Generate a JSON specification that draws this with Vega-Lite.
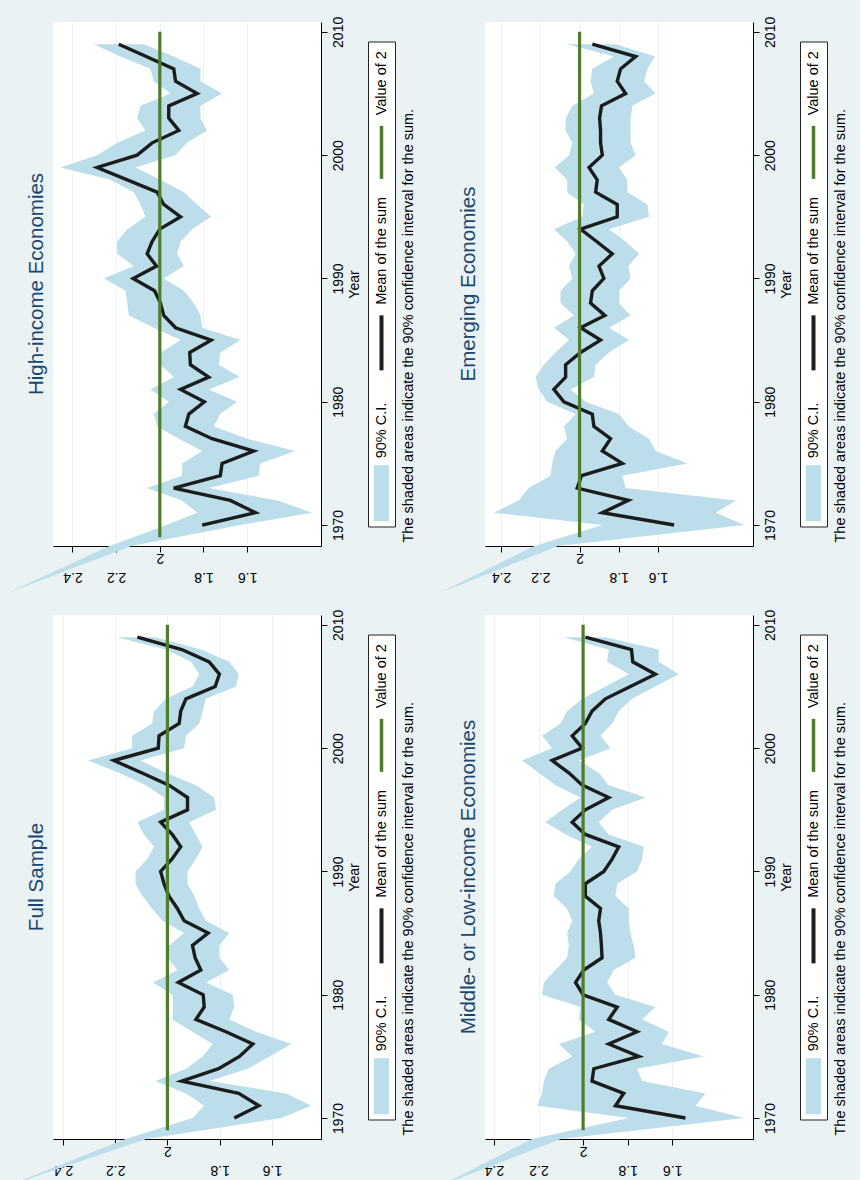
{
  "$schema": "https://vega.github.io/schema/vega-lite/v6.json",
  "background": "#eaf2f3",
  "padding": {"left": 7, "top": 16, "right": 11, "bottom": 2},
  "config": {
    "font": "Liberation Sans",
    "view": {"stroke": null},
    "axis": {"labelFont": "Liberation Sans", "titleFont": "Liberation Sans", "labelColor": "black", "titleColor": "black", "domainColor": "black", "tickColor": "black", "labelFontSize": 14, "titleFontSize": 14, "titleFontWeight": "normal", "tickSize": 6, "domainWidth": 1, "tickWidth": 1},
    "title": {"font": "Liberation Sans", "fontWeight": "normal"}
  },
  "datasets": {
    "ref": [{"year": 1969}, {"year": 2010}],
    "legend": [
      {"label": "Value of 2", "key": "g"},
      {"label": "Mean of the sum", "key": "m"},
      {"label": "90% C.I.", "key": "ci"}
    ],
    "series": [
      {"p":"HI","year":1964.5,"mean":null,"hi":2.695,"lo":2.695},
      {"p":"HI","year":1968.3,"mean":null,"hi":2.23,"lo":2.13},
      {"p":"HI","year":1970,"mean":1.806,"hi":1.97,"lo":1.631},
      {"p":"HI","year":1971,"mean":1.562,"hi":1.829,"lo":1.303},
      {"p":"HI","year":1972,"mean":1.677,"hi":1.90,"lo":1.46},
      {"p":"HI","year":1973,"mean":1.936,"hi":2.058,"lo":1.776},
      {"p":"HI","year":1974,"mean":1.723,"hi":1.898,"lo":1.547},
      {"p":"HI","year":1975,"mean":1.715,"hi":1.898,"lo":1.540},
      {"p":"HI","year":1976,"mean":1.570,"hi":1.806,"lo":1.380},
      {"p":"HI","year":1977,"mean":1.761,"hi":1.913,"lo":1.601},
      {"p":"HI","year":1978,"mean":1.883,"hi":2.012,"lo":1.753},
      {"p":"HI","year":1979,"mean":1.867,"hi":2.027,"lo":1.723},
      {"p":"HI","year":1980,"mean":1.796,"hi":1.959,"lo":1.646},
      {"p":"HI","year":1981,"mean":1.905,"hi":2.043,"lo":1.776},
      {"p":"HI","year":1982,"mean":1.776,"hi":1.936,"lo":1.634},
      {"p":"HI","year":1983,"mean":1.860,"hi":1.997,"lo":1.730},
      {"p":"HI","year":1984,"mean":1.863,"hi":1.994,"lo":1.723},
      {"p":"HI","year":1985,"mean":1.765,"hi":1.905,"lo":1.631},
      {"p":"HI","year":1986,"mean":1.928,"hi":2.027,"lo":1.806},
      {"p":"HI","year":1987,"mean":1.982,"hi":2.142,"lo":1.814},
      {"p":"HI","year":1988,"mean":1.997,"hi":2.149,"lo":1.845},
      {"p":"HI","year":1989,"mean":2.024,"hi":2.157,"lo":1.890},
      {"p":"HI","year":1990,"mean":2.122,"hi":2.256,"lo":1.982},
      {"p":"HI","year":1991,"mean":2.015,"hi":2.119,"lo":1.890},
      {"p":"HI","year":1992,"mean":2.058,"hi":2.195,"lo":1.921},
      {"p":"HI","year":1993,"mean":2.035,"hi":2.195,"lo":1.905},
      {"p":"HI","year":1994,"mean":2.000,"hi":2.149,"lo":1.852},
      {"p":"HI","year":1995,"mean":1.905,"hi":2.066,"lo":1.765},
      {"p":"HI","year":1996,"mean":1.982,"hi":2.088,"lo":1.829},
      {"p":"HI","year":1997,"mean":2.012,"hi":2.119,"lo":1.890},
      {"p":"HI","year":1998,"mean":2.149,"hi":2.226,"lo":1.997},
      {"p":"HI","year":1999,"mean":2.287,"hi":2.454,"lo":2.111},
      {"p":"HI","year":2000,"mean":2.104,"hi":2.287,"lo":1.928},
      {"p":"HI","year":2001,"mean":2.035,"hi":2.195,"lo":1.875},
      {"p":"HI","year":2002,"mean":1.913,"hi":2.066,"lo":1.784},
      {"p":"HI","year":2003,"mean":1.959,"hi":2.104,"lo":1.814},
      {"p":"HI","year":2004,"mean":1.959,"hi":2.088,"lo":1.814},
      {"p":"HI","year":2005,"mean":1.829,"hi":1.951,"lo":1.715},
      {"p":"HI","year":2006,"mean":1.928,"hi":2.027,"lo":1.814},
      {"p":"HI","year":2007,"mean":1.936,"hi":2.043,"lo":1.814},
      {"p":"HI","year":2008,"mean":2.062,"hi":2.180,"lo":1.936},
      {"p":"HI","year":2009,"mean":2.188,"hi":2.302,"lo":2.073},

      {"p":"EM","year":1964.5,"mean":null,"hi":2.712,"lo":2.712},
      {"p":"EM","year":1968.3,"mean":null,"hi":2.23,"lo":2.11},
      {"p":"EM","year":1970,"mean":1.518,"hi":1.884,"lo":1.161},
      {"p":"EM","year":1971,"mean":1.884,"hi":2.437,"lo":1.306},
      {"p":"EM","year":1972,"mean":1.751,"hi":2.310,"lo":1.203},
      {"p":"EM","year":1973,"mean":2.012,"hi":2.259,"lo":1.765},
      {"p":"EM","year":1974,"mean":1.990,"hi":2.148,"lo":1.782},
      {"p":"EM","year":1975,"mean":1.782,"hi":2.140,"lo":1.450},
      {"p":"EM","year":1976,"mean":1.884,"hi":2.123,"lo":1.612},
      {"p":"EM","year":1977,"mean":1.842,"hi":2.063,"lo":1.646},
      {"p":"EM","year":1978,"mean":1.927,"hi":2.080,"lo":1.748},
      {"p":"EM","year":1979,"mean":1.935,"hi":2.020,"lo":1.799},
      {"p":"EM","year":1980,"mean":2.080,"hi":2.165,"lo":1.969},
      {"p":"EM","year":1981,"mean":2.131,"hi":2.208,"lo":2.046},
      {"p":"EM","year":1982,"mean":2.071,"hi":2.225,"lo":1.927},
      {"p":"EM","year":1983,"mean":2.071,"hi":2.182,"lo":1.918},
      {"p":"EM","year":1984,"mean":1.995,"hi":2.123,"lo":1.850},
      {"p":"EM","year":1985,"mean":1.893,"hi":2.054,"lo":1.748},
      {"p":"EM","year":1986,"mean":1.995,"hi":2.131,"lo":1.850},
      {"p":"EM","year":1987,"mean":1.871,"hi":2.029,"lo":1.740},
      {"p":"EM","year":1988,"mean":1.944,"hi":2.097,"lo":1.799},
      {"p":"EM","year":1989,"mean":1.935,"hi":2.097,"lo":1.799},
      {"p":"EM","year":1990,"mean":1.876,"hi":2.037,"lo":1.740},
      {"p":"EM","year":1991,"mean":1.901,"hi":2.054,"lo":1.751},
      {"p":"EM","year":1992,"mean":1.833,"hi":2.020,"lo":1.697},
      {"p":"EM","year":1993,"mean":1.913,"hi":2.063,"lo":1.765},
      {"p":"EM","year":1994,"mean":1.995,"hi":2.131,"lo":1.850},
      {"p":"EM","year":1995,"mean":1.808,"hi":1.986,"lo":1.646},
      {"p":"EM","year":1996,"mean":1.808,"hi":1.978,"lo":1.654},
      {"p":"EM","year":1997,"mean":1.918,"hi":2.063,"lo":1.757},
      {"p":"EM","year":1998,"mean":1.910,"hi":2.063,"lo":1.757},
      {"p":"EM","year":1999,"mean":1.952,"hi":2.126,"lo":1.799},
      {"p":"EM","year":2000,"mean":1.884,"hi":2.054,"lo":1.714},
      {"p":"EM","year":2001,"mean":1.893,"hi":2.037,"lo":1.740},
      {"p":"EM","year":2002,"mean":1.893,"hi":2.071,"lo":1.740},
      {"p":"EM","year":2003,"mean":1.898,"hi":2.071,"lo":1.740},
      {"p":"EM","year":2004,"mean":1.888,"hi":2.037,"lo":1.731},
      {"p":"EM","year":2005,"mean":1.765,"hi":1.927,"lo":1.612},
      {"p":"EM","year":2006,"mean":1.808,"hi":1.944,"lo":1.671},
      {"p":"EM","year":2007,"mean":1.791,"hi":1.935,"lo":1.654},
      {"p":"EM","year":2008,"mean":1.714,"hi":1.825,"lo":1.615},
      {"p":"EM","year":2009,"mean":1.935,"hi":2.063,"lo":1.816},

      {"p":"FS","year":1964.5,"mean":null,"hi":2.611,"lo":2.611},
      {"p":"FS","year":1968.3,"mean":null,"hi":2.16,"lo":2.08},
      {"p":"FS","year":1970,"mean":1.744,"hi":1.904,"lo":1.564},
      {"p":"FS","year":1971,"mean":1.650,"hi":1.859,"lo":1.449},
      {"p":"FS","year":1972,"mean":1.727,"hi":1.929,"lo":1.545},
      {"p":"FS","year":1973,"mean":1.945,"hi":2.045,"lo":1.840},
      {"p":"FS","year":1974,"mean":1.804,"hi":1.929,"lo":1.692},
      {"p":"FS","year":1975,"mean":1.724,"hi":1.865,"lo":1.609},
      {"p":"FS","year":1976,"mean":1.673,"hi":1.827,"lo":1.526},
      {"p":"FS","year":1977,"mean":1.776,"hi":1.904,"lo":1.660},
      {"p":"FS","year":1978,"mean":1.891,"hi":1.981,"lo":1.763},
      {"p":"FS","year":1979,"mean":1.859,"hi":1.978,"lo":1.744},
      {"p":"FS","year":1980,"mean":1.863,"hi":1.981,"lo":1.750},
      {"p":"FS","year":1981,"mean":1.958,"hi":2.055,"lo":1.853},
      {"p":"FS","year":1982,"mean":1.872,"hi":1.962,"lo":1.763},
      {"p":"FS","year":1983,"mean":1.894,"hi":2.000,"lo":1.801},
      {"p":"FS","year":1984,"mean":1.904,"hi":1.994,"lo":1.801},
      {"p":"FS","year":1985,"mean":1.844,"hi":1.936,"lo":1.763},
      {"p":"FS","year":1986,"mean":1.936,"hi":2.019,"lo":1.853},
      {"p":"FS","year":1987,"mean":1.962,"hi":2.058,"lo":1.878},
      {"p":"FS","year":1988,"mean":1.994,"hi":2.096,"lo":1.897},
      {"p":"FS","year":1989,"mean":2.013,"hi":2.122,"lo":1.923},
      {"p":"FS","year":1990,"mean":2.026,"hi":2.122,"lo":1.923},
      {"p":"FS","year":1991,"mean":1.983,"hi":2.077,"lo":1.891},
      {"p":"FS","year":1992,"mean":1.949,"hi":2.051,"lo":1.865},
      {"p":"FS","year":1993,"mean":1.981,"hi":2.090,"lo":1.891},
      {"p":"FS","year":1994,"mean":2.026,"hi":2.115,"lo":1.917},
      {"p":"FS","year":1995,"mean":1.923,"hi":2.013,"lo":1.814},
      {"p":"FS","year":1996,"mean":1.923,"hi":2.013,"lo":1.821},
      {"p":"FS","year":1997,"mean":1.994,"hi":2.083,"lo":1.891},
      {"p":"FS","year":1998,"mean":2.099,"hi":2.186,"lo":2.006},
      {"p":"FS","year":1999,"mean":2.205,"hi":2.304,"lo":2.103},
      {"p":"FS","year":2000,"mean":2.035,"hi":2.135,"lo":1.936},
      {"p":"FS","year":2001,"mean":2.032,"hi":2.135,"lo":1.929},
      {"p":"FS","year":2002,"mean":1.955,"hi":2.058,"lo":1.878},
      {"p":"FS","year":2003,"mean":1.949,"hi":2.051,"lo":1.865},
      {"p":"FS","year":2004,"mean":1.929,"hi":2.006,"lo":1.853},
      {"p":"FS","year":2005,"mean":1.817,"hi":1.904,"lo":1.737},
      {"p":"FS","year":2006,"mean":1.801,"hi":1.878,"lo":1.727},
      {"p":"FS","year":2007,"mean":1.840,"hi":1.910,"lo":1.763},
      {"p":"FS","year":2008,"mean":1.945,"hi":2.006,"lo":1.872},
      {"p":"FS","year":2009,"mean":2.115,"hi":2.192,"lo":2.045},

      {"p":"ML","year":1964.5,"mean":null,"hi":2.642,"lo":2.642},
      {"p":"ML","year":1968.3,"mean":null,"hi":2.23,"lo":2.10},
      {"p":"ML","year":1970,"mean":1.541,"hi":1.795,"lo":1.279},
      {"p":"ML","year":1971,"mean":1.855,"hi":2.206,"lo":1.496},
      {"p":"ML","year":1972,"mean":1.818,"hi":2.184,"lo":1.451},
      {"p":"ML","year":1973,"mean":1.960,"hi":2.176,"lo":1.735},
      {"p":"ML","year":1974,"mean":1.952,"hi":2.154,"lo":1.758},
      {"p":"ML","year":1975,"mean":1.750,"hi":2.049,"lo":1.459},
      {"p":"ML","year":1976,"mean":1.885,"hi":2.109,"lo":1.646},
      {"p":"ML","year":1977,"mean":1.758,"hi":1.945,"lo":1.616},
      {"p":"ML","year":1978,"mean":1.885,"hi":2.019,"lo":1.735},
      {"p":"ML","year":1979,"mean":1.847,"hi":2.012,"lo":1.676},
      {"p":"ML","year":1980,"mean":2.000,"hi":2.184,"lo":1.855},
      {"p":"ML","year":1981,"mean":2.034,"hi":2.176,"lo":1.892},
      {"p":"ML","year":1982,"mean":1.997,"hi":2.124,"lo":1.862},
      {"p":"ML","year":1983,"mean":1.915,"hi":2.072,"lo":1.765},
      {"p":"ML","year":1984,"mean":1.918,"hi":2.064,"lo":1.773},
      {"p":"ML","year":1985,"mean":1.922,"hi":2.072,"lo":1.788},
      {"p":"ML","year":1986,"mean":1.930,"hi":2.049,"lo":1.795},
      {"p":"ML","year":1987,"mean":1.922,"hi":2.072,"lo":1.795},
      {"p":"ML","year":1988,"mean":1.990,"hi":2.132,"lo":1.855},
      {"p":"ML","year":1989,"mean":1.990,"hi":2.124,"lo":1.847},
      {"p":"ML","year":1990,"mean":1.907,"hi":2.057,"lo":1.758},
      {"p":"ML","year":1991,"mean":1.870,"hi":2.019,"lo":1.735},
      {"p":"ML","year":1992,"mean":1.840,"hi":1.960,"lo":1.728},
      {"p":"ML","year":1993,"mean":1.990,"hi":2.079,"lo":1.885},
      {"p":"ML","year":1994,"mean":2.049,"hi":2.169,"lo":1.930},
      {"p":"ML","year":1995,"mean":1.990,"hi":2.094,"lo":1.870},
      {"p":"ML","year":1996,"mean":1.885,"hi":2.012,"lo":1.720},
      {"p":"ML","year":1997,"mean":2.004,"hi":2.124,"lo":1.885},
      {"p":"ML","year":1998,"mean":2.064,"hi":2.199,"lo":1.930},
      {"p":"ML","year":1999,"mean":2.139,"hi":2.274,"lo":2.019},
      {"p":"ML","year":2000,"mean":2.004,"hi":2.139,"lo":1.877},
      {"p":"ML","year":2001,"mean":2.049,"hi":2.184,"lo":1.922},
      {"p":"ML","year":2002,"mean":1.990,"hi":2.102,"lo":1.870},
      {"p":"ML","year":2003,"mean":1.960,"hi":2.072,"lo":1.840},
      {"p":"ML","year":2004,"mean":1.900,"hi":2.004,"lo":1.780},
      {"p":"ML","year":2005,"mean":1.788,"hi":1.900,"lo":1.676},
      {"p":"ML","year":2006,"mean":1.676,"hi":1.795,"lo":1.571},
      {"p":"ML","year":2007,"mean":1.777,"hi":1.892,"lo":1.661},
      {"p":"ML","year":2008,"mean":1.783,"hi":1.885,"lo":1.661},
      {"p":"ML","year":2009,"mean":1.990,"hi":2.087,"lo":1.900}
    ]
  },
  "spacing": 16,
  "vconcat": [
    {
      "spacing": 22,
      "hconcat": [
        {
          "bounds": "flush", "center": true, "spacing": 47,
          "hconcat": [
            {
              "width": 268, "height": 524,
              "view": {"stroke": null, "fill": "white"},
              "title": {"text": "High-income Economies", "orient": "left", "frame": "group", "offset": -39.5, "fontSize": 20.5, "color": "#1a476f", "fontWeight": "normal"},
              "layer": [
                {
                  "data": {"name": "series"},
                  "transform": [{"filter": "datum.p === 'HI'"}],
                  "mark": {"type": "area", "orient": "horizontal", "fill": "#bbdeea", "fillOpacity": 1, "clip": false},
                  "encoding": {
                    "y": {"field": "year", "type": "quantitative", "title": "Year", "scale": {"domain": [1968.3, 2010.8], "nice": false, "zero": false},
                          "axis": {"orient": "right", "values": [1970, 1980, 1990, 2000, 2010], "format": "d", "grid": false, "labelAngle": 270, "labelAlign": "center", "labelBaseline": "top", "labelPadding": 4, "labelOverlap": false, "labelFlush": false, "titleAngle": 270, "titleBaseline": "top", "titlePadding": 2}},
                    "x": {"field": "hi", "type": "quantitative", "title": null, "scale": {"domain": [1.262, 2.489], "reverse": true, "nice": false, "zero": false},
                          "axis": {"values": [1.6, 1.8, 2, 2.2, 2.4], "format": "~g", "grid": true, "gridColor": "#eaf2f3", "labelAngle": 180, "labelAlign": "center", "labelBaseline": {"condition": {"test": "datum.value == 2", "value": "bottom"}, "value": "line-bottom"}, "labelLineHeight": 53, "labelPadding": -2, "labelOverlap": false, "labelFlush": false}},
                    "x2": {"field": "lo"}
                  }
                },
                {
                  "data": {"name": "series"},
                  "transform": [{"filter": "datum.p === 'HI' && datum.mean != null"}],
                  "mark": {"type": "line", "color": "#1c1c1c", "strokeWidth": 3.4},
                  "encoding": {
                    "y": {"field": "year", "type": "quantitative", "title": "Year"},
                    "x": {"field": "mean", "type": "quantitative", "title": null},
                    "order": {"field": "year", "type": "quantitative"}
                  }
                },
                {
                  "data": {"name": "ref"},
                  "mark": {"type": "line", "color": "#4f7d2c", "strokeWidth": 3.2},
                  "encoding": {
                    "y": {"field": "year", "type": "quantitative", "title": "Year"},
                    "x": {"datum": 2, "type": "quantitative", "title": null}
                  }
                }
              ]
            },
            {
              "width": 27, "height": 485,
              "view": {"stroke": "#222222", "strokeWidth": 1, "fill": "white"},
              "data": {"name": "legend"},
              "title": {"text": "The shaded areas indicate the 90% confidence interval for the sum.", "orient": "right", "anchor": "end", "frame": "group", "angle": 270, "align": "left", "baseline": "top", "offset": -7.5, "dx": -16, "fontSize": 14.5, "fontWeight": "normal", "color": "black"},
              "encoding": {"y": {"field": "label", "type": "nominal", "scale": {"type": "point", "domain": ["Value of 2", "Mean of the sum", "90% C.I."], "padding": 0.414, "align": 0.52}, "axis": null}},
              "layer": [
                {"transform": [{"filter": "datum.key !== 'm'"}], "mark": {"type": "text", "angle": 270, "align": "left", "baseline": "middle", "fontSize": 14.5, "color": "black"}, "encoding": {"text": {"field": "label"}}},
                {"transform": [{"filter": "datum.key === 'm'"}], "mark": {"type": "text", "angle": 270, "align": "left", "baseline": "middle", "fontSize": 14.5, "color": "black", "yOffset": 18}, "encoding": {"text": {"field": "label"}}},
                {"transform": [{"filter": "datum.key === 'ci'"}], "mark": {"type": "point", "shape": "M-0.27,-1H0.27V1H-0.27Z", "size": 3136, "filled": true, "color": "#bbdeea", "opacity": 1, "yOffset": 35}},
                {"transform": [{"filter": "datum.key === 'm'"}], "mark": {"type": "point", "shape": "M0,-1L0,1", "size": 3025, "filled": false, "color": "#1c1c1c", "strokeWidth": 4, "opacity": 1, "yOffset": 56}},
                {"transform": [{"filter": "datum.key === 'g'"}], "mark": {"type": "point", "shape": "M0,-1L0,1", "size": 2809, "filled": false, "color": "#4f7d2c", "strokeWidth": 3.5, "opacity": 1, "yOffset": 37}}
              ]
            }
          ]
        },
        {
          "bounds": "flush", "center": true, "spacing": 47,
          "hconcat": [
            {
              "width": 268, "height": 524,
              "view": {"stroke": null, "fill": "white"},
              "title": {"text": "Emerging Economies", "orient": "left", "frame": "group", "offset": -39.5, "fontSize": 20.5, "color": "#1a476f", "fontWeight": "normal"},
              "layer": [
                {
                  "data": {"name": "series"},
                  "transform": [{"filter": "datum.p === 'EM'"}],
                  "mark": {"type": "area", "orient": "horizontal", "fill": "#bbdeea", "fillOpacity": 1, "clip": false},
                  "encoding": {
                    "y": {"field": "year", "type": "quantitative", "title": "Year", "scale": {"domain": [1968.3, 2010.8], "nice": false, "zero": false},
                          "axis": {"orient": "right", "values": [1970, 1980, 1990, 2000, 2010], "format": "d", "grid": false, "labelAngle": 270, "labelAlign": "center", "labelBaseline": "top", "labelPadding": 4, "labelOverlap": false, "labelFlush": false, "titleAngle": 270, "titleBaseline": "top", "titlePadding": 2}},
                    "x": {"field": "hi", "type": "quantitative", "title": null, "scale": {"domain": [1.116, 2.482], "reverse": true, "nice": false, "zero": false},
                          "axis": {"values": [1.6, 1.8, 2, 2.2, 2.4], "format": "~g", "grid": true, "gridColor": "#eaf2f3", "labelAngle": 180, "labelAlign": "center", "labelBaseline": {"condition": {"test": "datum.value == 2", "value": "bottom"}, "value": "line-bottom"}, "labelLineHeight": 53, "labelPadding": -2, "labelOverlap": false, "labelFlush": false}},
                    "x2": {"field": "lo"}
                  }
                },
                {
                  "data": {"name": "series"},
                  "transform": [{"filter": "datum.p === 'EM' && datum.mean != null"}],
                  "mark": {"type": "line", "color": "#1c1c1c", "strokeWidth": 3.4},
                  "encoding": {
                    "y": {"field": "year", "type": "quantitative", "title": "Year"},
                    "x": {"field": "mean", "type": "quantitative", "title": null},
                    "order": {"field": "year", "type": "quantitative"}
                  }
                },
                {
                  "data": {"name": "ref"},
                  "mark": {"type": "line", "color": "#4f7d2c", "strokeWidth": 3.2},
                  "encoding": {
                    "y": {"field": "year", "type": "quantitative", "title": "Year"},
                    "x": {"datum": 2, "type": "quantitative", "title": null}
                  }
                }
              ]
            },
            {
              "width": 27, "height": 485,
              "view": {"stroke": "#222222", "strokeWidth": 1, "fill": "white"},
              "data": {"name": "legend"},
              "title": {"text": "The shaded areas indicate the 90% confidence interval for the sum.", "orient": "right", "anchor": "end", "frame": "group", "angle": 270, "align": "left", "baseline": "top", "offset": -7.5, "dx": -16, "fontSize": 14.5, "fontWeight": "normal", "color": "black"},
              "encoding": {"y": {"field": "label", "type": "nominal", "scale": {"type": "point", "domain": ["Value of 2", "Mean of the sum", "90% C.I."], "padding": 0.414, "align": 0.52}, "axis": null}},
              "layer": [
                {"transform": [{"filter": "datum.key !== 'm'"}], "mark": {"type": "text", "angle": 270, "align": "left", "baseline": "middle", "fontSize": 14.5, "color": "black"}, "encoding": {"text": {"field": "label"}}},
                {"transform": [{"filter": "datum.key === 'm'"}], "mark": {"type": "text", "angle": 270, "align": "left", "baseline": "middle", "fontSize": 14.5, "color": "black", "yOffset": 18}, "encoding": {"text": {"field": "label"}}},
                {"transform": [{"filter": "datum.key === 'ci'"}], "mark": {"type": "point", "shape": "M-0.27,-1H0.27V1H-0.27Z", "size": 3136, "filled": true, "color": "#bbdeea", "opacity": 1, "yOffset": 35}},
                {"transform": [{"filter": "datum.key === 'm'"}], "mark": {"type": "point", "shape": "M0,-1L0,1", "size": 3025, "filled": false, "color": "#1c1c1c", "strokeWidth": 4, "opacity": 1, "yOffset": 56}},
                {"transform": [{"filter": "datum.key === 'g'"}], "mark": {"type": "point", "shape": "M0,-1L0,1", "size": 2809, "filled": false, "color": "#4f7d2c", "strokeWidth": 3.5, "opacity": 1, "yOffset": 37}}
              ]
            }
          ]
        }
      ]
    },
    {
      "spacing": 22,
      "hconcat": [
        {
          "bounds": "flush", "center": true, "spacing": 47,
          "hconcat": [
            {
              "width": 268, "height": 524,
              "view": {"stroke": null, "fill": "white"},
              "title": {"text": "Full Sample", "orient": "left", "frame": "group", "offset": -39.5, "fontSize": 20.5, "color": "#1a476f", "fontWeight": "normal"},
              "layer": [
                {
                  "data": {"name": "series"},
                  "transform": [{"filter": "datum.p === 'FS'"}],
                  "mark": {"type": "area", "orient": "horizontal", "fill": "#bbdeea", "fillOpacity": 1, "clip": false},
                  "encoding": {
                    "y": {"field": "year", "type": "quantitative", "title": "Year", "scale": {"domain": [1968.3, 2010.8], "nice": false, "zero": false},
                          "axis": {"orient": "right", "values": [1970, 1980, 1990, 2000, 2010], "format": "d", "grid": false, "labelAngle": 270, "labelAlign": "center", "labelBaseline": "top", "labelPadding": 4, "labelOverlap": false, "labelFlush": false, "titleAngle": 270, "titleBaseline": "top", "titlePadding": 2}},
                    "x": {"field": "hi", "type": "quantitative", "title": null, "scale": {"domain": [1.412, 2.438], "reverse": true, "nice": false, "zero": false},
                          "axis": {"values": [1.6, 1.8, 2, 2.2, 2.4], "format": "~g", "grid": true, "gridColor": "#eaf2f3", "labelAngle": 180, "labelAlign": "center", "labelBaseline": {"condition": {"test": "datum.value == 2", "value": "bottom"}, "value": "line-bottom"}, "labelLineHeight": 53, "labelPadding": -2, "labelOverlap": false, "labelFlush": false}},
                    "x2": {"field": "lo"}
                  }
                },
                {
                  "data": {"name": "series"},
                  "transform": [{"filter": "datum.p === 'FS' && datum.mean != null"}],
                  "mark": {"type": "line", "color": "#1c1c1c", "strokeWidth": 3.4},
                  "encoding": {
                    "y": {"field": "year", "type": "quantitative", "title": "Year"},
                    "x": {"field": "mean", "type": "quantitative", "title": null},
                    "order": {"field": "year", "type": "quantitative"}
                  }
                },
                {
                  "data": {"name": "ref"},
                  "mark": {"type": "line", "color": "#4f7d2c", "strokeWidth": 3.2},
                  "encoding": {
                    "y": {"field": "year", "type": "quantitative", "title": "Year"},
                    "x": {"datum": 2, "type": "quantitative", "title": null}
                  }
                }
              ]
            },
            {
              "width": 27, "height": 485,
              "view": {"stroke": "#222222", "strokeWidth": 1, "fill": "white"},
              "data": {"name": "legend"},
              "title": {"text": "The shaded areas indicate the 90% confidence interval for the sum.", "orient": "right", "anchor": "end", "frame": "group", "angle": 270, "align": "left", "baseline": "top", "offset": -7.5, "dx": -16, "fontSize": 14.5, "fontWeight": "normal", "color": "black"},
              "encoding": {"y": {"field": "label", "type": "nominal", "scale": {"type": "point", "domain": ["Value of 2", "Mean of the sum", "90% C.I."], "padding": 0.414, "align": 0.52}, "axis": null}},
              "layer": [
                {"transform": [{"filter": "datum.key !== 'm'"}], "mark": {"type": "text", "angle": 270, "align": "left", "baseline": "middle", "fontSize": 14.5, "color": "black"}, "encoding": {"text": {"field": "label"}}},
                {"transform": [{"filter": "datum.key === 'm'"}], "mark": {"type": "text", "angle": 270, "align": "left", "baseline": "middle", "fontSize": 14.5, "color": "black", "yOffset": 18}, "encoding": {"text": {"field": "label"}}},
                {"transform": [{"filter": "datum.key === 'ci'"}], "mark": {"type": "point", "shape": "M-0.27,-1H0.27V1H-0.27Z", "size": 3136, "filled": true, "color": "#bbdeea", "opacity": 1, "yOffset": 35}},
                {"transform": [{"filter": "datum.key === 'm'"}], "mark": {"type": "point", "shape": "M0,-1L0,1", "size": 3025, "filled": false, "color": "#1c1c1c", "strokeWidth": 4, "opacity": 1, "yOffset": 56}},
                {"transform": [{"filter": "datum.key === 'g'"}], "mark": {"type": "point", "shape": "M0,-1L0,1", "size": 2809, "filled": false, "color": "#4f7d2c", "strokeWidth": 3.5, "opacity": 1, "yOffset": 37}}
              ]
            }
          ]
        },
        {
          "bounds": "flush", "center": true, "spacing": 47,
          "hconcat": [
            {
              "width": 268, "height": 524,
              "view": {"stroke": null, "fill": "white"},
              "title": {"text": "Middle- or Low-income Economies", "orient": "left", "frame": "group", "offset": -39.5, "fontSize": 20.5, "color": "#1a476f", "fontWeight": "normal"},
              "layer": [
                {
                  "data": {"name": "series"},
                  "transform": [{"filter": "datum.p === 'ML'"}],
                  "mark": {"type": "area", "orient": "horizontal", "fill": "#bbdeea", "fillOpacity": 1, "clip": false},
                  "encoding": {
                    "y": {"field": "year", "type": "quantitative", "title": "Year", "scale": {"domain": [1968.3, 2010.8], "nice": false, "zero": false},
                          "axis": {"orient": "right", "values": [1970, 1980, 1990, 2000, 2010], "format": "d", "grid": false, "labelAngle": 270, "labelAlign": "center", "labelBaseline": "top", "labelPadding": 4, "labelOverlap": false, "labelFlush": false, "titleAngle": 270, "titleBaseline": "top", "titlePadding": 2}},
                    "x": {"field": "hi", "type": "quantitative", "title": null, "scale": {"domain": [1.238, 2.44], "reverse": true, "nice": false, "zero": false},
                          "axis": {"values": [1.6, 1.8, 2, 2.2, 2.4], "format": "~g", "grid": true, "gridColor": "#eaf2f3", "labelAngle": 180, "labelAlign": "center", "labelBaseline": {"condition": {"test": "datum.value == 2", "value": "bottom"}, "value": "line-bottom"}, "labelLineHeight": 53, "labelPadding": -2, "labelOverlap": false, "labelFlush": false}},
                    "x2": {"field": "lo"}
                  }
                },
                {
                  "data": {"name": "series"},
                  "transform": [{"filter": "datum.p === 'ML' && datum.mean != null"}],
                  "mark": {"type": "line", "color": "#1c1c1c", "strokeWidth": 3.4},
                  "encoding": {
                    "y": {"field": "year", "type": "quantitative", "title": "Year"},
                    "x": {"field": "mean", "type": "quantitative", "title": null},
                    "order": {"field": "year", "type": "quantitative"}
                  }
                },
                {
                  "data": {"name": "ref"},
                  "mark": {"type": "line", "color": "#4f7d2c", "strokeWidth": 3.2},
                  "encoding": {
                    "y": {"field": "year", "type": "quantitative", "title": "Year"},
                    "x": {"datum": 2, "type": "quantitative", "title": null}
                  }
                }
              ]
            },
            {
              "width": 27, "height": 485,
              "view": {"stroke": "#222222", "strokeWidth": 1, "fill": "white"},
              "data": {"name": "legend"},
              "title": {"text": "The shaded areas indicate the 90% confidence interval for the sum.", "orient": "right", "anchor": "end", "frame": "group", "angle": 270, "align": "left", "baseline": "top", "offset": -7.5, "dx": -16, "fontSize": 14.5, "fontWeight": "normal", "color": "black"},
              "encoding": {"y": {"field": "label", "type": "nominal", "scale": {"type": "point", "domain": ["Value of 2", "Mean of the sum", "90% C.I."], "padding": 0.414, "align": 0.52}, "axis": null}},
              "layer": [
                {"transform": [{"filter": "datum.key !== 'm'"}], "mark": {"type": "text", "angle": 270, "align": "left", "baseline": "middle", "fontSize": 14.5, "color": "black"}, "encoding": {"text": {"field": "label"}}},
                {"transform": [{"filter": "datum.key === 'm'"}], "mark": {"type": "text", "angle": 270, "align": "left", "baseline": "middle", "fontSize": 14.5, "color": "black", "yOffset": 18}, "encoding": {"text": {"field": "label"}}},
                {"transform": [{"filter": "datum.key === 'ci'"}], "mark": {"type": "point", "shape": "M-0.27,-1H0.27V1H-0.27Z", "size": 3136, "filled": true, "color": "#bbdeea", "opacity": 1, "yOffset": 35}},
                {"transform": [{"filter": "datum.key === 'm'"}], "mark": {"type": "point", "shape": "M0,-1L0,1", "size": 3025, "filled": false, "color": "#1c1c1c", "strokeWidth": 4, "opacity": 1, "yOffset": 56}},
                {"transform": [{"filter": "datum.key === 'g'"}], "mark": {"type": "point", "shape": "M0,-1L0,1", "size": 2809, "filled": false, "color": "#4f7d2c", "strokeWidth": 3.5, "opacity": 1, "yOffset": 37}}
              ]
            }
          ]
        }
      ]
    }
  ]
}
